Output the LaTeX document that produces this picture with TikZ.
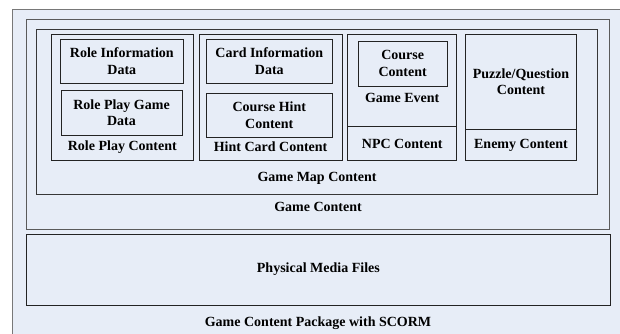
\documentclass[tikz,border=0pt]{standalone}
\usepackage{fontspec}
\setmainfont{Liberation Serif}
\usetikzlibrary{fit}
\definecolor{bgc}{RGB}{231,237,247}
\definecolor{lnA}{RGB}{120,120,120}
\definecolor{lnB}{RGB}{90,90,90}
\definecolor{lnC}{RGB}{55,55,55}
\definecolor{lnD}{RGB}{35,35,35}
\tikzset{
  box/.style={draw=lnD, fill=bgc, line width=0.9pt, inner sep=0pt},
  txt/.style={font=\fontsize{14}{16.7}\selectfont\bfseries, align=center, inner sep=0pt, text=black},
}
\begin{document}
\begin{tikzpicture}[x=1pt,y=-1pt]
\useasboundingbox (0,0) rectangle (620,333);
\begin{scope}
\clip (0,0) rectangle (620,333);
\node[box, draw=lnA, fit={(12,9) (640,350)}] (pkg) {};
\end{scope}
\node[box, draw=lnB, fit={(26.7,19.3) (609,229)}] (gc) {};
\node[box, draw=lnC, fit={(36.7,29.3) (597,194)}] (gm) {};
% Role play
\node[box, fit={(51,34.3) (193.7,160)}] (rp) {};
\node[box, fit={(60,39.3) (183.7,83.3)}] (rid) {};
\node[txt] at (rid.center) {Role Information\\Data};
\node[box, fit={(61,90) (182,135.7)}] (rpg) {};
\node[txt] at (rpg.center) {Role Play Game\\Data};
\node[txt] (rpl) at (122.3,147) {Role Play Content};
% Hint card
\node[box, fit={(199,34.3) (342.3,160)}] (hc) {};
\node[box, fit={(206.3,39.3) (332.3,83.3)}] (cid) {};
\node[txt] at (cid.center) {Card Information\\Data};
\node[box, fit={(206.3,93.3) (332.3,137.7)}] (chc) {};
\node[txt] at (chc.center) {Course Hint\\Content};
\node[txt] (hcl) at (270.6,147) {Hint Card Content};
% NPC
\node[box, fit={(347.7,34.3) (456.7,160)}] (npc) {};
\coordinate (npcdl) at (347.7,126.7);
\coordinate (npcdr) at (456.7,126.7);
\draw[draw=lnD, line width=0.9pt] (npcdl) -- (npcdr);
\node[box, fit={(358.3,41) (447,86)}] (cc) {};
\node[txt] at (cc.center) {Course\\Content};
\node[txt] (gel) at (402.2,98.3) {Game Event};
\node[txt] (npcl) at (402.2,144) {NPC Content};
% Enemy
\node[box, fit={(465.7,34.3) (576.3,160)}] (en) {};
\coordinate (endl) at (465.7,129);
\coordinate (endr) at (576.3,129);
\draw[draw=lnD, line width=0.9pt] (endl) -- (endr);
\node[txt] (pq) at (521,81.7) {Puzzle/Question\\Content};
\node[txt] (enl) at (521,145) {Enemy Content};
% labels
\node[txt] (gml) at (317,178.3) {Game Map Content};
\node[txt] (gcl) at (318,207.3) {Game Content};
\node[box, fit={(26.7,234) (610,305)}] (pm) {};
\node[txt] at (pm.center) {Physical Media Files};
\node[txt] (pkgl) at (318,323) {Game Content Package with SCORM};
\end{tikzpicture}
\end{document}
